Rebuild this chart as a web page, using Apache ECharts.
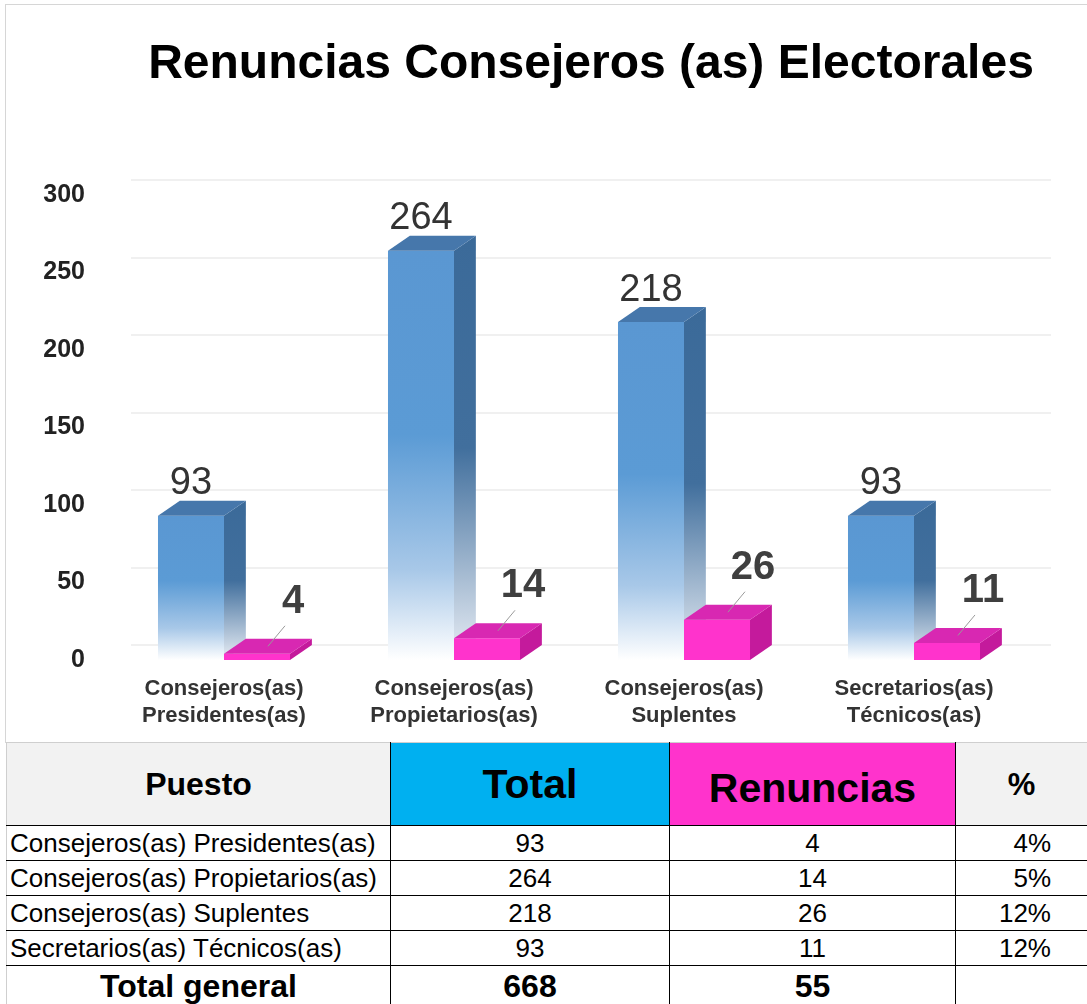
<!DOCTYPE html>
<html>
<head>
<meta charset="utf-8">
<script src="https://cdn.jsdelivr.net/npm/echarts@6/dist/echarts.min.js"></script>
<style>
  html, body { margin: 0; padding: 0; background: #fff; }
  body { width: 1087px; height: 1004px; position: relative; overflow: hidden; font-family: 'Liberation Sans', Arial, sans-serif; }
  #frame { position: absolute; left: 5px; top: 4px; width: 1082px; height: 738px; border-left: 1px solid #d6d6d6; border-top: 1px solid #d6d6d6; }
  #chart { position: absolute; left: 6px; top: 5px; width: 1081px; height: 737px; }
  #tabla { position: absolute; left: 6px; top: 742px; width: 1081px; border-collapse: collapse; table-layout: fixed; }
  #tabla td { border: 1px solid #000; padding: 0 4px; color: #000; white-space: nowrap; overflow: hidden; line-height: 1; }
  #tabla tr.head td { height: 82px; font-weight: bold; text-align: center; background: #f2f2f2; border-top: 1px solid #cfcfcf; }
  #tabla tr.fila td { height: 34px; font-size: 26px; text-align: center; }
  #tabla tr.fila td:first-child { text-align: left; padding-left: 3px; }
  #tabla tr.tot td { height: 40px; font-size: 32px; font-weight: bold; text-align: center; }
  #tabla td:first-child { border-left: 1px solid #cfcfcf; }
</style>
</head>
<body>
<div id="frame"></div>
<div id="chart"></div>
<table id="tabla">
  <colgroup><col style="width:384px"><col style="width:279px"><col style="width:286px"><col style="width:132px"></colgroup>
  <tbody id="cuerpo"></tbody>
</table>
<script>
// datos
const puestos = ['Consejeros(as) Presidentes(as)', 'Consejeros(as) Propietarios(as)', 'Consejeros(as) Suplentes', 'Secretarios(as) Técnicos(as)']
const totales = [93, 264, 218, 93]
const renuncias = [4, 14, 26, 11]
const porcentajes = ['4%', '5%', '12%', '12%']
const totalGeneral = ['668', '55', '']
const yTicks = [0, 50, 100, 150, 200, 250, 300]

const fuente = "'Liberation Sans', Arial, sans-serif"

// barra con cara frontal, lateral y superior
function barra3d(lado, colores, etiqueta) {
  return function (params, api) {
    const cat = api.value(0)
    const val = api.value(1)
    const p = api.coord([cat, val])
    const base = api.coord([cat, 0])
    const banda = api.size([1, 0])[0]
    const w = banda * 0.287
    const dx = banda * 0.095
    const dy = 15
    const x0 = lado < 0 ? p[0] - w : p[0]
    const x1 = x0 + w
    const y0 = p[1]
    const y1 = base[1]
    const hijos = [
      { type: 'rect', shape: { x: x0, y: y0, width: w, height: y1 - y0 }, style: { fill: colores.frente } },
      { type: 'polygon', shape: { points: [[x1, y0], [x1 + dx, y0 - dy], [x1 + dx, y1 - dy], [x1, y1]] }, style: { fill: colores.lado } },
      { type: 'polygon', shape: { points: [[x0, y0], [x0 + dx, y0 - dy], [x1 + dx, y0 - dy], [x1, y0]] }, style: { fill: colores.tapa } }
    ]
    const cx = x0 + w / 2
    if (etiqueta === 'arriba') {
      hijos.push({ type: 'text', style: { text: String(val), x: cx, y: y0 - dy + 2, align: 'center', verticalAlign: 'bottom', fontSize: 38, fontFamily: fuente, fill: '#333' } })
    } else {
      const lx = cx + 36
      const ly = y0 - 52
      hijos.push({ type: 'line', shape: { x1: cx + dx / 2, y1: y0 - dy / 2, x2: lx - 8, y2: ly + 24 }, style: { stroke: '#9a9a9a', lineWidth: 1 } })
      hijos.push({ type: 'text', style: { text: String(val), x: lx, y: ly, align: 'center', verticalAlign: 'middle', fontSize: 40, fontWeight: 'bold', fontFamily: fuente, fill: '#3f3f3f' } })
    }
    return { type: 'group', children: hijos }
  }
}

const azul = {
  frente: new echarts.graphic.LinearGradient(0, 0, 0, 1, [
    { offset: 0, color: '#5a97d2' }, { offset: 0.45, color: '#5b9bd5' }, { offset: 0.78, color: '#a8c8e8' }, { offset: 1, color: '#ffffff' }
  ]),
  lado: new echarts.graphic.LinearGradient(0, 0, 0, 1, [
    { offset: 0, color: '#3b6a99' }, { offset: 0.5, color: '#416f9d' }, { offset: 1, color: '#e9eef5' }
  ]),
  tapa: '#4677ab'
}
const rosa = { frente: '#ff33cc', lado: '#c41a9c', tapa: '#d828b2' }

const chart = echarts.init(document.getElementById('chart'))
chart.setOption({
  animation: false,
  title: {
    text: 'Renuncias Consejeros (as) Electorales',
    left: 580, top: 31, textAlign: 'center',
    textStyle: { fontSize: 48, fontWeight: 'bold', fontFamily: fuente, color: '#000' }
  },
  grid: [
    { left: 103, right: 58, top: 190, bottom: 82 },
    { left: 125, right: 36, top: 175, bottom: 97 }
  ],
  xAxis: [
    {
      type: 'category', gridIndex: 0, data: puestos,
      axisLine: { show: false }, axisTick: { show: false },
      axisLabel: {
        margin: 15, fontSize: 22, fontWeight: 'bold', fontFamily: fuente, color: '#333', lineHeight: 27,
        formatter: v => v.replace(' ', '\n')
      }
    },
    { type: 'category', gridIndex: 1, data: puestos, show: false }
  ],
  yAxis: [
    {
      type: 'value', gridIndex: 0, min: yTicks[0], max: yTicks[yTicks.length - 1], interval: 50,
      axisLine: { show: false }, axisTick: { show: false }, splitLine: { show: false },
      axisLabel: { margin: 24, fontSize: 25, fontWeight: 'bold', fontFamily: fuente, color: '#222' }
    },
    {
      type: 'value', gridIndex: 1, min: yTicks[0], max: yTicks[yTicks.length - 1], interval: 50,
      axisLine: { show: false }, axisTick: { show: false }, axisLabel: { show: false },
      splitLine: { lineStyle: { color: '#f0f0f0', width: 2 } }
    }
  ],
  series: [
    {
      name: 'Total', type: 'custom', xAxisIndex: 0, yAxisIndex: 0, clip: false,
      renderItem: barra3d(-1, azul, 'arriba'),
      data: totales.map((v, i) => [i, v])
    },
    {
      name: 'Renuncias', type: 'custom', xAxisIndex: 0, yAxisIndex: 0, clip: false,
      renderItem: barra3d(1, rosa, 'lado'),
      data: renuncias.map((v, i) => [i, v])
    }
  ]
})

// tabla
const cuerpo = document.getElementById('cuerpo')
let html = '<tr class="head">' +
  '<td style="font-size:32px">Puesto</td>' +
  '<td style="font-size:41px;background:#00b0f0">Total</td>' +
  '<td style="font-size:41px;background:#ff33cc"><span style="position:relative;top:4px">Renuncias</span></td>' +
  '<td style="font-size:31px">%</td></tr>'
puestos.forEach((p, i) => {
  html += '<tr class="fila"><td>' + p + '</td><td>' + totales[i] + '</td><td>' + renuncias[i] + '</td><td style="text-align:right;padding-right:36px">' + porcentajes[i] + '</td></tr>'
})
html += '<tr class="tot"><td>Total general</td><td>' + totalGeneral[0] + '</td><td>' + totalGeneral[1] + '</td><td>' + totalGeneral[2] + '</td></tr>'
cuerpo.innerHTML = html
</script>
</body>
</html>
